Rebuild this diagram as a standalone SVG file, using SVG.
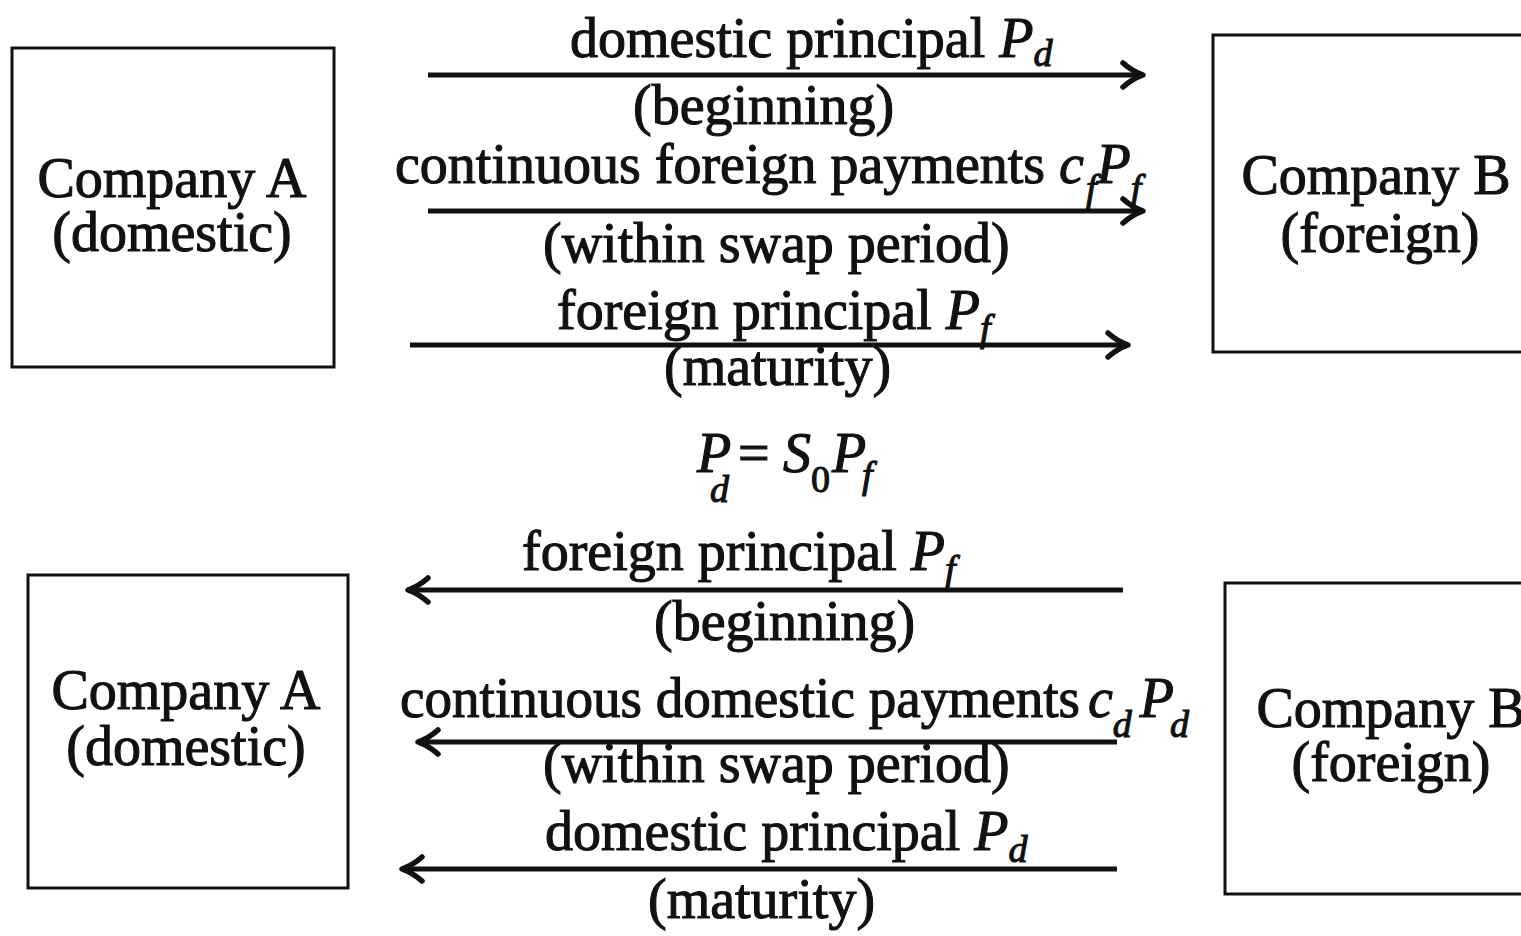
<svg xmlns="http://www.w3.org/2000/svg" width="1521" height="936" viewBox="0 0 1521 936">
<style>
  text { font-family: "Liberation Serif", "Times New Roman", serif; font-size: 56px; fill: #111; stroke: #111; stroke-width: 1.1px; }
  .it { font-style: italic; }
  .sub { font-style: italic; font-size: 38px; }
  .box { fill: none; stroke: #111; stroke-width: 3; }
  .arr { stroke: #111; stroke-width: 5; fill: none; marker-end: url(#head); }
</style>
<defs>
  <marker id="head" markerUnits="userSpaceOnUse" viewBox="0 0 30 30" refX="27" refY="15" markerWidth="30" markerHeight="30" orient="auto">
    <path d="M7,3 Q16,11 27,15 Q16,19 7,27" fill="none" stroke="#111" stroke-width="5.5" stroke-linecap="round" stroke-linejoin="round"/>
  </marker>
</defs>
<rect width="1521" height="936" fill="#fff"/>

<g id="topA">
  <rect class="box" x="12" y="48" width="322" height="319"/>
  <text x="172" y="197" text-anchor="middle">Company A</text>
  <text x="172" y="251" text-anchor="middle">(domestic)</text>
</g>
<g id="topB">
  <rect class="box" x="1213" y="35" width="330" height="317"/>
  <text x="1376" y="194" text-anchor="middle">Company B</text>
  <text x="1380" y="252" text-anchor="middle">(foreign)</text>
</g>
<g id="botA">
  <rect class="box" x="28" y="575" width="320" height="313"/>
  <text x="186" y="709" text-anchor="middle">Company A</text>
  <text x="186" y="765" text-anchor="middle">(domestic)</text>
</g>
<g id="botB">
  <rect class="box" x="1225" y="583" width="320" height="311"/>
  <text x="1391" y="727" text-anchor="middle">Company B</text>
  <text x="1391" y="781" text-anchor="middle">(foreign)</text>
</g>

<g id="connectors">
  <line class="arr" x1="428" y1="75" x2="1143" y2="75"/>
  <line class="arr" x1="428" y1="211" x2="1143" y2="211"/>
  <line class="arr" x1="410" y1="345" x2="1128" y2="345"/>
  <line class="arr" x1="1123" y1="590" x2="408" y2="590"/>
  <line class="arr" x1="1117" y1="742" x2="418" y2="742"/>
  <line class="arr" x1="1117" y1="869" x2="402" y2="869"/>
</g>

<g id="labels">
  <text x="570" y="57">domestic principal <tspan class="it">P</tspan><tspan class="sub" dy="9">d</tspan></text>
  <text x="633" y="124">(beginning)</text>
  <text x="395" y="183">continuous foreign payments <tspan class="it">c</tspan><tspan class="sub" dx="2" dy="18">f</tspan><tspan class="it" dy="-18">P</tspan><tspan class="sub" dy="18">f</tspan></text>
  <text x="543" y="262">(within swap period)</text>
  <text x="557" y="329">foreign principal <tspan class="it">P</tspan><tspan class="sub" dy="12">f</tspan></text>
  <text x="664" y="385">(maturity)</text>

  <text x="697" y="472"><tspan class="it">P</tspan><tspan class="sub" x="710" dy="30">d</tspan><tspan x="738" dy="-30">=</tspan><tspan class="it" x="783">S</tspan><tspan x="811" dy="20" font-size="38">0</tspan><tspan class="it" x="832" dy="-20">P</tspan><tspan class="sub" x="862" dy="16">f</tspan></text>

  <text x="522" y="570">foreign principal <tspan class="it">P</tspan><tspan class="sub" dy="12">f</tspan></text>
  <text x="654" y="640">(beginning)</text>
  <text x="400" y="717" textLength="680" lengthAdjust="spacingAndGlyphs">continuous domestic payments</text>
  <text x="1088" y="717"><tspan class="it">c</tspan><tspan class="sub" dy="20">d</tspan><tspan class="it" dx="8" dy="-20">P</tspan><tspan class="sub" dx="-4" dy="20">d</tspan></text>
  <text x="543" y="782">(within swap period)</text>
  <text x="545" y="850">domestic principal <tspan class="it">P</tspan><tspan class="sub" dy="12">d</tspan></text>
  <text x="648" y="918">(maturity)</text>
</g>
</svg>
